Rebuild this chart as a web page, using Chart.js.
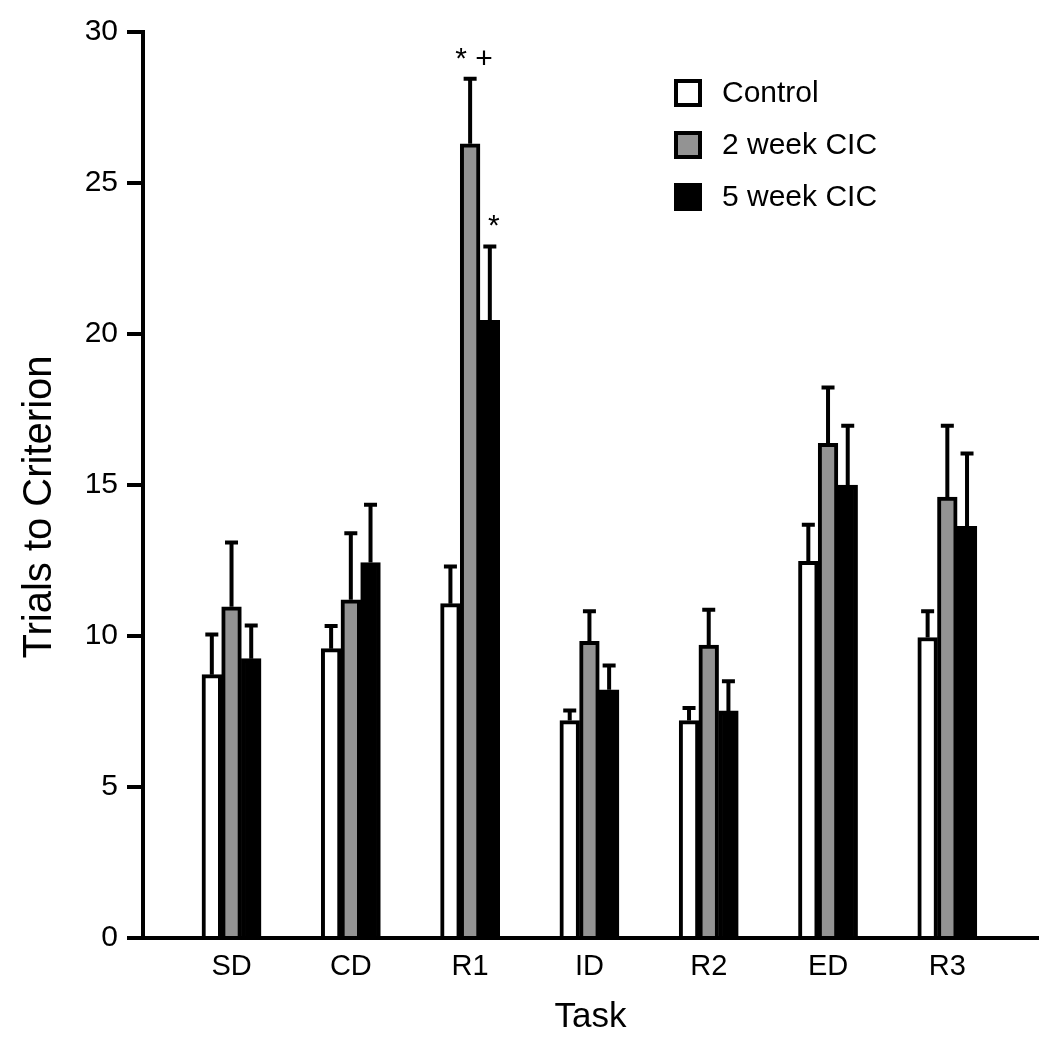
<!DOCTYPE html>
<html lang="en">

<head>
    <meta charset="UTF-8">
    <title>Trials to Criterion</title>
    <script src="https://cdn.jsdelivr.net/npm/chart.js"></script>
    <style>
        html, body { margin: 0; padding: 0; background: #fff; }
        #wrap { width: 1050px; height: 1047px; }
    </style>
</head>

<body>
    <div id="wrap"><canvas id="taskChart" width="1050" height="1047"></canvas></div>

    <script>
        // data
        const tasks = ['SD', 'CD', 'R1', 'ID', 'R2', 'ED', 'R3'];
        const seriesNames = ['Control', '2 week CIC', '5 week CIC'];

        const controlMean = [8.72, 9.58, 11.07, 7.2, 7.2, 12.47, 9.95];
        const controlSem = [1.33, 0.75, 1.23, 0.33, 0.42, 1.21, 0.87];
        const twoWeekMean = [10.97, 11.2, 26.3, 9.82, 9.7, 16.38, 14.6];
        const twoWeekSem = [2.13, 2.2, 2.15, 1.0, 1.17, 1.85, 2.36];
        const fiveWeekMean = [9.25, 12.43, 20.45, 8.22, 7.52, 15.0, 13.63];
        const fiveWeekSem = [1.1, 1.92, 2.45, 0.8, 0.98, 1.96, 2.41];

        const yTicks = [0, 5, 10, 15, 20, 25, 30];

        // significance marks above the error bars
        const marks = [
            { task: 'R1', series: 1, text: '* +' },
            { task: 'R1', series: 2, text: '*' }
        ];

        const means = [controlMean, twoWeekMean, fiveWeekMean];
        const sems = [controlSem, twoWeekSem, fiveWeekSem];
        const fills = ['#ffffff', '#939393', '#000000'];
        const FONT = "'Liberation Sans', Arial, Helvetica, sans-serif";

        // error bars (upper only) + significance marks
        const errorBars = {
            id: 'errorBars',
            afterDatasetsDraw(chart) {
                const ctx = chart.ctx;
                const y = chart.scales.y;
                ctx.save();
                ctx.strokeStyle = '#000';
                ctx.lineWidth = 4;
                means.forEach((m, d) => {
                    const meta = chart.getDatasetMeta(d);
                    meta.data.forEach((bar, i) => {
                        const top = y.getPixelForValue(m[i] + sems[d][i]);
                        ctx.beginPath();
                        ctx.moveTo(bar.x, bar.y);
                        ctx.lineTo(bar.x, top);
                        ctx.moveTo(bar.x - 6.5, top);
                        ctx.lineTo(bar.x + 6.5, top);
                        ctx.stroke();
                    });
                });

                ctx.fillStyle = '#000';
                ctx.font = '30px ' + FONT;
                ctx.textAlign = 'center';
                ctx.textBaseline = 'alphabetic';
                marks.forEach((mk) => {
                    const i = tasks.indexOf(mk.task);
                    const bar = chart.getDatasetMeta(mk.series).data[i];
                    const top = y.getPixelForValue(means[mk.series][i] + sems[mk.series][i]);
                    ctx.fillText(mk.text, bar.x + 4, top - 11);
                });
                ctx.restore();
            }
        };

        // y title, drawn by hand so it can sit a bit below the middle like the original
        const yTitle = {
            id: 'yTitle',
            afterDraw(chart) {
                const ctx = chart.ctx;
                ctx.save();
                ctx.translate(40, 507);
                ctx.rotate(-Math.PI / 2);
                ctx.font = '40px ' + FONT;
                ctx.fillStyle = '#000';
                ctx.textAlign = 'center';
                ctx.textBaseline = 'middle';
                ctx.fillText('Trials to Criterion', 0, 0);
                ctx.restore();
            }
        };

        // legend box in the top right of the plot
        const boxLegend = {
            id: 'boxLegend',
            afterDraw(chart) {
                const ctx = chart.ctx;
                ctx.save();
                ctx.font = '30px ' + FONT;
                ctx.textBaseline = 'middle';
                ctx.textAlign = 'left';
                seriesNames.forEach((name, k) => {
                    const cy = 93 + k * 52;
                    ctx.fillStyle = fills[k];
                    ctx.fillRect(674, cy - 14, 28, 28);
                    ctx.strokeStyle = '#000';
                    ctx.lineWidth = 4;
                    ctx.strokeRect(676, cy - 12, 24, 24);
                    ctx.fillStyle = '#000';
                    ctx.fillText(name, 722, cy + 1);
                });
                ctx.restore();
            }
        };

        const ctx = document.getElementById('taskChart').getContext('2d');
        new Chart(ctx, {
            type: 'bar',
            data: {
                datasets: seriesNames.map((name, d) => ({
                    label: name,
                    data: means[d].map((v, i) => ({ x: i, y: v })),
                    backgroundColor: fills[d],
                    borderColor: '#000',
                    borderWidth: 4,
                    barThickness: 19.7
                }))
            },
            options: {
                responsive: false,
                animation: false,
                devicePixelRatio: 1,
                layout: { padding: { top: 32, right: 12, left: 0, bottom: 0 } },
                plugins: {
                    legend: { display: false },
                    tooltip: { enabled: false }
                },
                scales: {
                    x: {
                        type: 'linear',
                        min: -0.742,
                        max: 6.76,
                        offset: false,
                        grid: { display: false, drawTicks: false, offset: false },
                        border: { display: true, color: '#000', width: 4 },
                        afterBuildTicks: (axis) => { axis.ticks = tasks.map((t, i) => ({ value: i })); },
                        afterFit: (axis) => { axis.height = 109; },
                        ticks: {
                            color: '#000',
                            font: { family: FONT, size: 29 },
                            padding: 12,
                            maxRotation: 0,
                            autoSkip: false,
                            callback: (v) => tasks[v]
                        },
                        title: {
                            display: true,
                            text: 'Task',
                            color: '#000',
                            font: { family: FONT, size: 35 },
                            padding: { top: 0, bottom: 9 }
                        }
                    },
                    y: {
                        min: 0,
                        max: 30,
                        afterBuildTicks: (axis) => { axis.ticks = yTicks.map((v) => ({ value: v })); },
                        afterFit: (axis) => { axis.width = 143; },
                        grid: {
                            drawOnChartArea: false,
                            drawTicks: true,
                            tickLength: 16,
                            color: '#000',
                            lineWidth: 4
                        },
                        border: { display: true, color: '#000', width: 4 },
                        ticks: {
                            color: '#000',
                            font: { family: FONT, size: 30 },
                            padding: 9
                        },
                        title: { display: false }
                    }
                }
            },
            plugins: [errorBars, yTitle, boxLegend]
        });
    </script>
</body>

</html>
